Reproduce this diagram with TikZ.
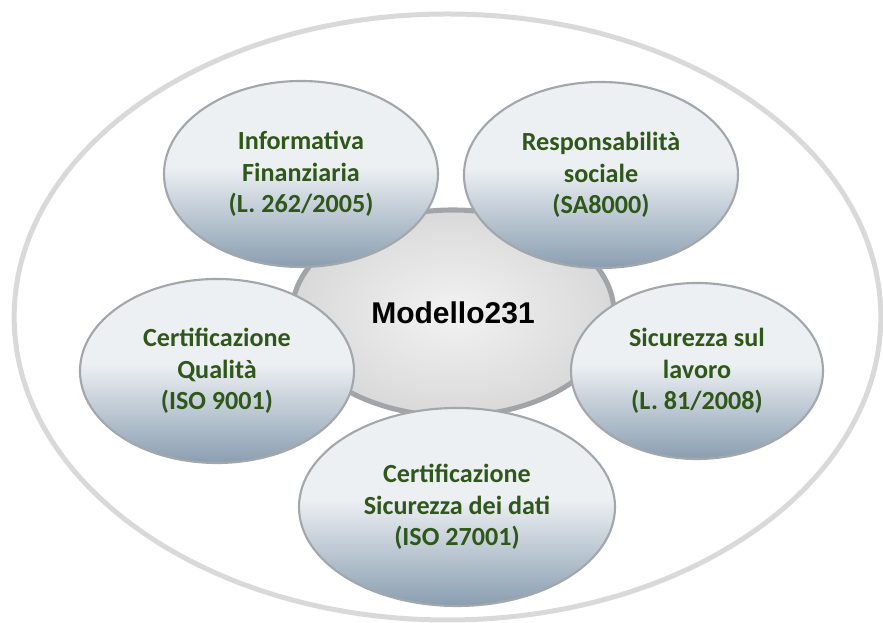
\documentclass[tikz,border=0pt]{standalone}
\usepackage{fontspec}
\setmainfont{Carlito}
\newfontfamily\arialfont{Liberation Sans}
\usetikzlibrary{shapes.geometric}
\definecolor{rimgray}{HTML}{D9D9D9}
\definecolor{edgegray}{HTML}{A3A7AB}
\definecolor{hubedge}{HTML}{A2A5A8}
\definecolor{satdark}{HTML}{8A9EB1}
\definecolor{satmid}{HTML}{C0CBD5}
\definecolor{satlight}{HTML}{EDF0F3}
\definecolor{labgreen}{HTML}{2F5719}
\pgfdeclareverticalshading{satshade}{100bp}{color(0bp)=(satdark); color(25bp)=(satdark); color(40bp)=(satmid); color(52bp)=(satlight); color(100bp)=(satlight)}
\begin{document}
\begin{tikzpicture}[x=0.75pt,y=0.75pt,
    sat/.style={ellipse,draw=edgegray,line width=1.6pt,shade,shading=satshade,inner sep=0pt,outer sep=0pt,align=center,text=labgreen,font=\fontsize{19.6}{23.6}\selectfont\bfseries},
    hub/.style={ellipse,draw=hubedge,line width=3.8pt,inner color=white!95!black,outer color=white!85!black,inner sep=0pt,outer sep=0pt,font=\arialfont\fontsize{22.5}{27}\selectfont\bfseries}]
        \useasboundingbox (0,0) rectangle (883,623);
        \node[ellipse,draw=rimgray,line width=3.75pt,minimum width=650pt,minimum height=454.5pt,inner sep=0pt] (frame) at (447.5,306) {};
        \node[hub,minimum width=241.5pt,minimum height=154.5pt] (modello) at (453,310) {Modello231};
        \node[sat,minimum width=205.5pt,minimum height=139.5pt] (info) at (301,449) {Informativa\\Finanziaria\\(L. 262/2005)};
        \node[sat,minimum width=205.5pt,minimum height=139.5pt] (resp) at (601,448) {Responsabilità\\sociale\\(SA8000)};
        \node[sat,minimum width=205.5pt,minimum height=138pt] (qual) at (217,252) {Certificazione\\Qualità\\(ISO 9001)};
        \node[sat,minimum width=189pt,minimum height=132pt] (lavoro) at (697,252) {Sicurezza sul\\lavoro\\(L. 81/2008)};
        \node[sat,minimum width=237pt,minimum height=148.5pt] (dati) at (457,116) {Certificazione\\Sicurezza dei dati\\(ISO 27001)};
\end{tikzpicture}
\end{document}
